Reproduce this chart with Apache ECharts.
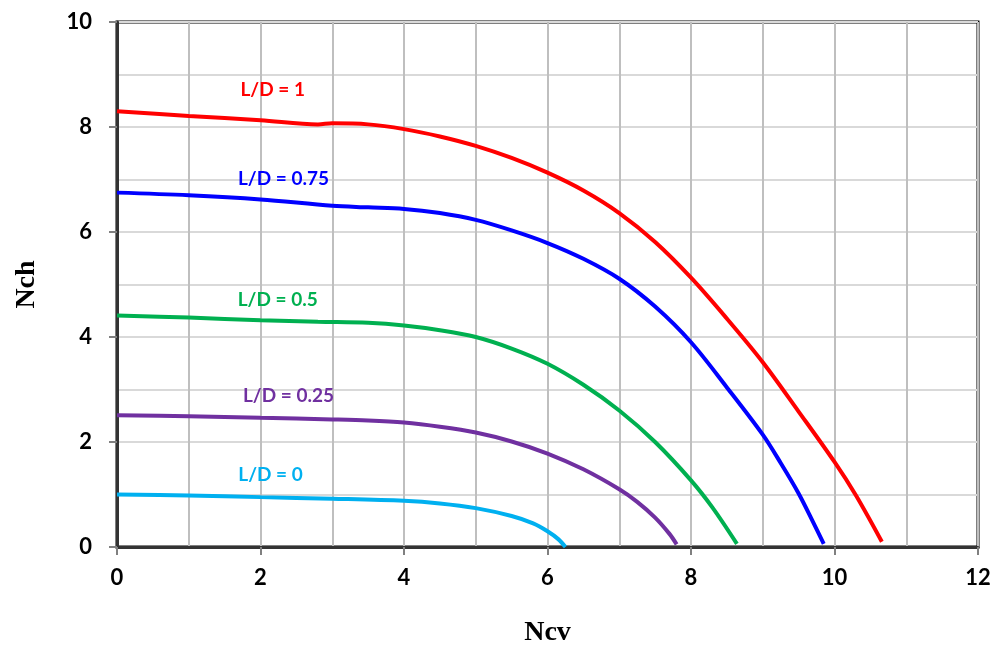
<!DOCTYPE html>
<html>
<head>
<meta charset="utf-8">
<script src="https://cdn.jsdelivr.net/npm/echarts@6/dist/echarts.min.js"></script>
<style>html,body{margin:0;padding:0;background:#fff}#c{width:998px;height:650px}</style>
</head>
<body>
<div id="c"></div>
<script>
const xTicks = [0, 2, 4, 6, 8, 10, 12];
const yTicks = [0, 2, 4, 6, 8, 10];

const redX = [0, 1, 2, 2.8, 3.0, 3.5, 4, 4.5, 5, 5.5, 6, 6.5, 7, 7.5, 8, 8.5, 9, 9.5, 10, 10.3, 10.66];
const redY = [8.30, 8.21, 8.13, 8.05, 8.07, 8.05, 7.96, 7.82, 7.64, 7.41, 7.13, 6.79, 6.36, 5.81, 5.13, 4.35, 3.52, 2.58, 1.62, 0.98, 0.10];

const blueX = [0, 1, 2, 3, 3.5, 4, 4.5, 5, 5.5, 6, 6.5, 7, 7.5, 8, 8.5, 9, 9.25, 9.5, 9.7, 9.85];
const blueY = [6.75, 6.70, 6.62, 6.50, 6.47, 6.44, 6.36, 6.23, 6.03, 5.79, 5.49, 5.11, 4.58, 3.90, 3.04, 2.14, 1.60, 1.02, 0.48, 0.06];

const greenX = [0, 1, 2, 2.8, 3.5, 4, 4.5, 5, 5.5, 6, 6.5, 7, 7.5, 8, 8.3, 8.64];
const greenY = [4.41, 4.37, 4.32, 4.29, 4.27, 4.22, 4.13, 4.00, 3.78, 3.49, 3.09, 2.60, 2.00, 1.27, 0.75, 0.06];

const purpleX = [0, 1, 2, 3, 3.5, 4, 4.5, 5, 5.5, 6, 6.5, 7, 7.25, 7.5, 7.7, 7.8];
const purpleY = [2.51, 2.49, 2.46, 2.43, 2.41, 2.37, 2.29, 2.18, 2.01, 1.78, 1.48, 1.10, 0.86, 0.56, 0.25, 0.05];

const cyanX = [0, 1, 2, 3, 4, 4.5, 5, 5.5, 5.8, 6.0, 6.15, 6.25];
const cyanY = [1.00, 0.98, 0.95, 0.92, 0.88, 0.83, 0.74, 0.59, 0.45, 0.30, 0.15, 0.0];

const seriesNames = ['L/D = 1', 'L/D = 0.75', 'L/D = 0.5', 'L/D = 0.25', 'L/D = 0'];
const labelX = [2.17, 2.32, 2.24, 2.39, 2.14];
const labelY = [8.70, 7.02, 4.70, 2.87, 1.37];

const colors = ['#ff0000', '#0000ff', '#00b050', '#7030a0', '#00b0f0'];
const xs = [redX, blueX, greenX, purpleX, cyanX];
const ys = [redY, blueY, greenY, purpleY, cyanY];

const chart = echarts.init(document.getElementById('c'));
const series = seriesNames.map((name, i) => ({
  name: name,
  type: 'line',
  data: xs[i].map((x, j) => [x, ys[i][j]]),
  showSymbol: false,
  smooth: 0.33,
  lineStyle: { color: colors[i], width: 4 },
  itemStyle: { color: colors[i] },
  z: 3,
  markPoint: {
    symbol: 'circle', symbolSize: 0, silent: true,
    data: [{ coord: [labelX[i], labelY[i]] }],
    label: {
      show: true, position: 'inside', formatter: name,
      color: colors[i], fontFamily: 'Lato', fontWeight: 'bold', fontSize: 19
    }
  }
}));

chart.setOption({
  animation: false,
  backgroundColor: '#fff',
  grid: { left: 117, right: 20, top: 22, bottom: 103, containLabel: false, outerBoundsMode: 'none',
    show: true, borderColor: '#000', borderWidth: 3, backgroundColor: 'transparent' },
  xAxis: {
    type: 'value', min: 0, max: 12, interval: 2,
    name: 'Ncv', nameLocation: 'middle', nameGap: 72,
    nameTextStyle: { fontFamily: 'Liberation Serif', fontWeight: 'bold', fontSize: 28, color: '#000' },
    axisLine: { show: true, onZero: false, lineStyle: { color: '#333', width: 3 } },
    axisTick: { show: true, inside: false, length: 8, lineStyle: { color: '#808080', width: 2 } },
    axisLabel: { margin: 20, fontFamily: 'Lato', fontWeight: 'bold', fontSize: 22, color: '#000',
      formatter: v => xTicks.includes(v) ? String(v) : '' },
    splitLine: { show: true, lineStyle: { color: '#bfbfbf', width: 2 } },
    minorTick: { show: false, splitNumber: 2 },
    minorSplitLine: { show: true, lineStyle: { color: '#bfbfbf', width: 2 } }
  },
  yAxis: {
    type: 'value', min: 0, max: 10, interval: 2,
    name: 'Nch', nameLocation: 'middle', nameGap: 76, nameRotate: 90,
    nameTextStyle: { fontFamily: 'Liberation Serif', fontWeight: 'bold', fontSize: 28, color: '#000' },
    axisLine: { show: true, onZero: false, lineStyle: { color: '#333', width: 3 } },
    axisTick: { show: true, inside: false, length: 8, lineStyle: { color: '#808080', width: 2 } },
    axisLabel: { margin: 25, fontFamily: 'Lato', fontWeight: 'bold', fontSize: 22, color: '#000',
      formatter: v => yTicks.includes(v) ? String(v) : '' },
    splitLine: { show: true, lineStyle: { color: '#d9d9d9', width: 2 } },
    minorTick: { show: false, splitNumber: 2 },
    minorSplitLine: { show: true, lineStyle: { color: '#d9d9d9', width: 2 } }
  },
  series: series
});
</script>
</body>
</html>
